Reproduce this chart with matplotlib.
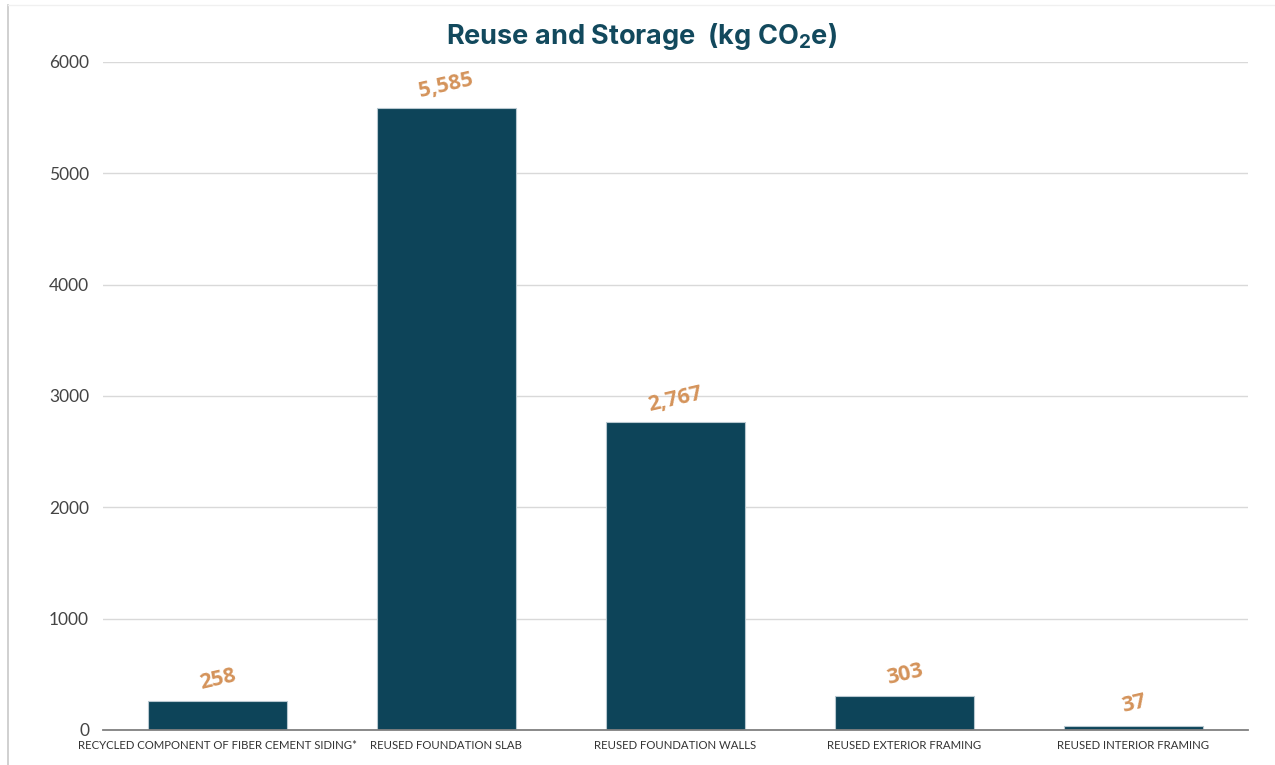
import matplotlib.pyplot as plt
from matplotlib.lines import Line2D

categories = [
    'RECYCLED COMPONENT OF FIBER CEMENT SIDING*',
    'REUSED FOUNDATION SLAB',
    'REUSED FOUNDATION WALLS',
    'REUSED EXTERIOR FRAMING',
    'REUSED INTERIOR FRAMING',
]
values = [258, 5585, 2767, 303, 37]
yticks = [0, 1000, 2000, 3000, 4000, 5000, 6000]

bar_color = '#0d4459'
label_color = '#d4935a'
title_color = '#12495d'

fig = plt.figure(figsize=(12.75, 7.65), dpi=100)
ax = fig.add_axes([103 / 1275, 35 / 765, 1145 / 1275, 668 / 765])

x = range(len(categories))
bars = ax.bar(x, values, width=0.607, color=bar_color,
              edgecolor='#b8c8d0', linewidth=0.8, zorder=3)

for xi, v in zip(x, values):
    ax.text(xi, v + 200, f'{v:,}', ha='center', va='center', rotation=13,
            color=label_color, fontsize=15.5, fontweight='bold',
            family='Open Sans', zorder=4)

ax.set_xlim(-0.5, len(categories) - 0.5)
ax.set_ylim(0, 6000)
ax.set_yticks(yticks)
ax.set_yticklabels([str(t) for t in yticks], fontsize=12.5, color='#444444',
                   family='Lato')
ax.set_xticks(list(x))
ax.set_xticklabels(categories, fontsize=8.2, color='#333333', family='Lato')
ax.tick_params(axis='both', length=0)
ax.tick_params(axis='y', pad=10)
ax.tick_params(axis='x', pad=7)

ax.grid(axis='y', color='#d9d9d9', linewidth=1, zorder=0)
for s in ['top', 'right', 'left']:
    ax.spines[s].set_visible(False)
ax.spines['bottom'].set_color('#808080')
ax.spines['bottom'].set_linewidth(1.3)
ax.spines['bottom'].set_zorder(4)

fig.text(642 / 1275, 1 - 37 / 765, 'Reuse and Storage  (kg CO$_\\mathregular{2}$e)',
         ha='center', va='center', fontsize=19.5, fontweight='bold',
         color=title_color, family='Inter')

# thin frame on the left and top edge of the chart area
fig.add_artist(Line2D([8 / 1275, 8 / 1275], [0, 1 - 5 / 765],
                      transform=fig.transFigure, color='#c8c8c8', linewidth=1.2))
fig.add_artist(Line2D([8 / 1275, 1], [1 - 5 / 765, 1 - 5 / 765],
                      transform=fig.transFigure, color='#f0f0f0', linewidth=1))

fig.savefig('out.png', dpi=100)
